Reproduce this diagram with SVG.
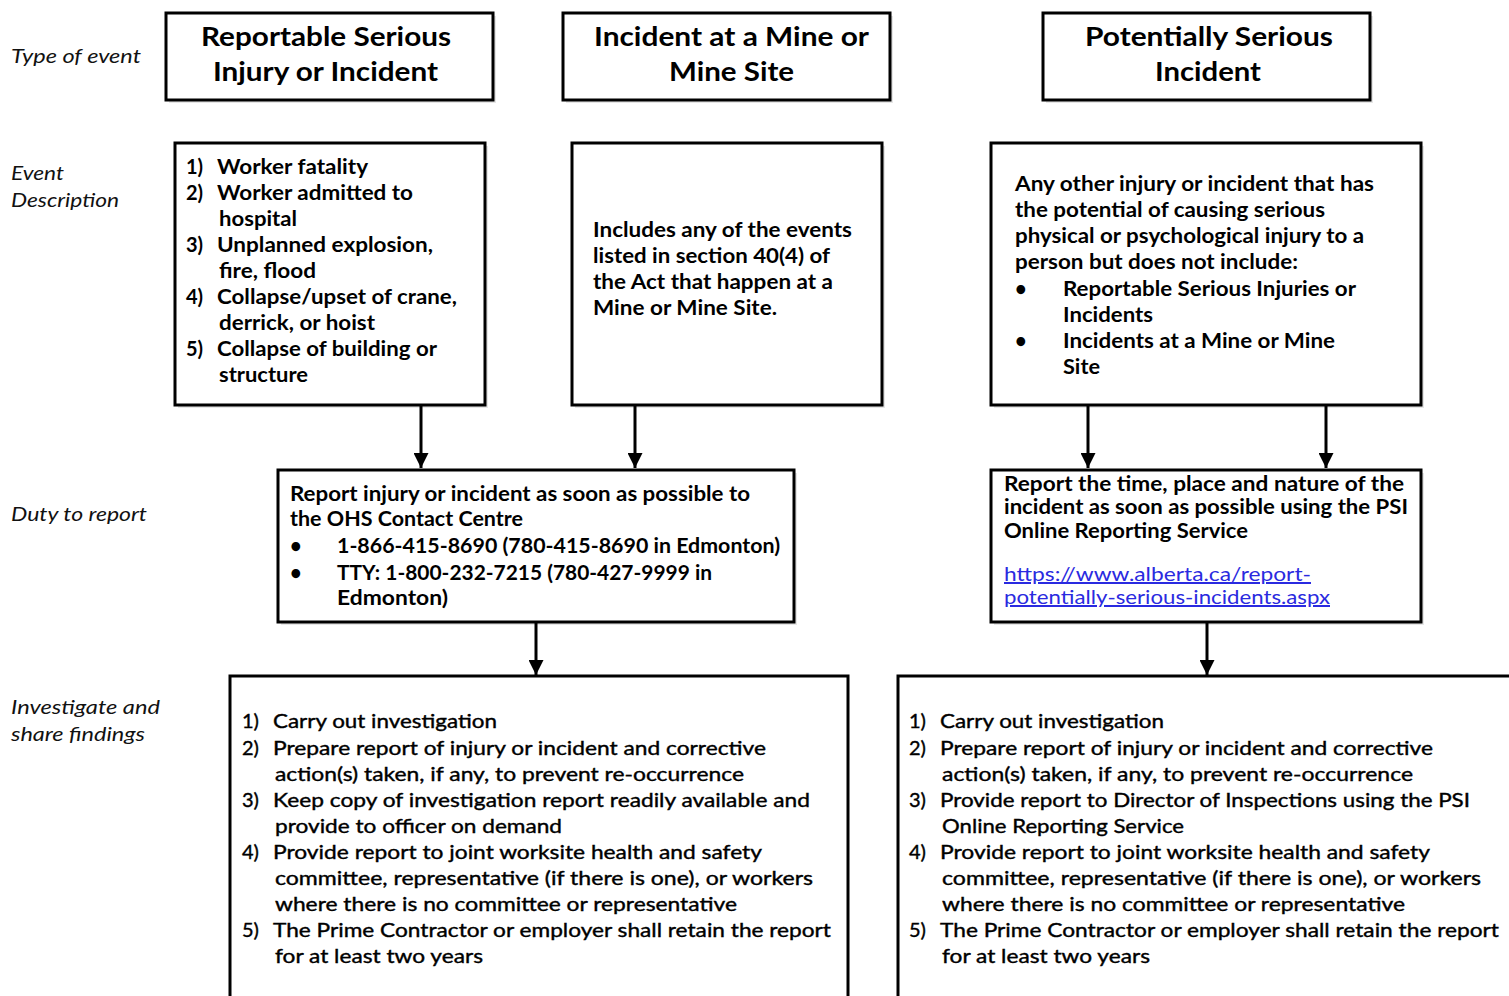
<svg xmlns="http://www.w3.org/2000/svg" width="1509" height="996" viewBox="0 0 1509 996">
<style>
.box{fill:#fff;stroke:#000;stroke-width:3}
.sh{fill:#e6e6e6}
text{font-family:Lato,"Open Sans","Liberation Sans",sans-serif;fill:#000}
.t{font-size:27px;font-weight:bold}
.b{font-size:20px;font-weight:bold}
.n{font-size:20px;font-weight:normal;stroke:#000;stroke-width:0.4}
.lab{font-size:20px;font-style:italic;fill:#111}
.link{fill:#2a2ae0;text-decoration:underline;font-weight:normal;font-size:20px}
.c{stroke:#000;stroke-width:3;fill:none}
</style>
<defs>
<marker id="ah" viewBox="0 0 10 10" refX="10" refY="5" markerWidth="5" markerHeight="5" markerUnits="strokeWidth" orient="auto">
<path d="M0,0 L10,5 L0,10 Z" fill="#000"/>
</marker>
</defs>
<rect width="1509" height="996" fill="#fff"/>

<g id="labels">
<text class="lab" x="11" y="63" textLength="130" lengthAdjust="spacingAndGlyphs">Type of event</text>
<text class="lab" x="11" y="180" textLength="53" lengthAdjust="spacingAndGlyphs">Event</text>
<text class="lab" x="11" y="207" textLength="108" lengthAdjust="spacingAndGlyphs">Description</text>
<text class="lab" x="11" y="521" textLength="136" lengthAdjust="spacingAndGlyphs">Duty to report</text>
<text class="lab" x="11" y="714" textLength="149" lengthAdjust="spacingAndGlyphs">Investigate and</text>
<text class="lab" x="11" y="741" textLength="134" lengthAdjust="spacingAndGlyphs">share findings</text>
</g>

<g id="type-rsi">
<rect class="sh" x="169" y="16" width="327" height="87"/>
<rect class="box" x="166" y="13" width="327" height="87"/>
<text class="t" x="201" y="46" textLength="250" lengthAdjust="spacingAndGlyphs">Reportable Serious</text>
<text class="t" x="213" y="81" textLength="225" lengthAdjust="spacingAndGlyphs">Injury or Incident</text>
</g>
<g id="type-mine">
<rect class="sh" x="566" y="16" width="327" height="87"/>
<rect class="box" x="563" y="13" width="327" height="87"/>
<text class="t" x="594" y="46" textLength="275" lengthAdjust="spacingAndGlyphs">Incident at a Mine or</text>
<text class="t" x="669" y="81" textLength="125" lengthAdjust="spacingAndGlyphs">Mine Site</text>
</g>
<g id="type-psi">
<rect class="sh" x="1046" y="16" width="327" height="87"/>
<rect class="box" x="1043" y="13" width="327" height="87"/>
<text class="t" x="1085" y="46" textLength="248" lengthAdjust="spacingAndGlyphs">Potentially Serious</text>
<text class="t" x="1155" y="81" textLength="106" lengthAdjust="spacingAndGlyphs">Incident</text>
</g>

<g id="desc-rsi">
<rect class="sh" x="178" y="146" width="310" height="262"/>
<rect class="box" x="175" y="143" width="310" height="262"/>
<text class="b" x="186" y="174">1)</text><text class="b" x="217" y="174" textLength="151" lengthAdjust="spacingAndGlyphs">Worker fatality</text>
<text class="b" x="186" y="200">2)</text><text class="b" x="217" y="200" textLength="196" lengthAdjust="spacingAndGlyphs">Worker admitted to</text>
<text class="b" x="219" y="226" textLength="78" lengthAdjust="spacingAndGlyphs">hospital</text>
<text class="b" x="186" y="252">3)</text><text class="b" x="217" y="252" textLength="216" lengthAdjust="spacingAndGlyphs">Unplanned explosion,</text>
<text class="b" x="219" y="278" textLength="97" lengthAdjust="spacingAndGlyphs">fire, flood</text>
<text class="b" x="186" y="304">4)</text><text class="b" x="217" y="304" textLength="240" lengthAdjust="spacingAndGlyphs">Collapse/upset of crane,</text>
<text class="b" x="219" y="330" textLength="156" lengthAdjust="spacingAndGlyphs">derrick, or hoist</text>
<text class="b" x="186" y="356">5)</text><text class="b" x="217" y="356" textLength="220" lengthAdjust="spacingAndGlyphs">Collapse of building or</text>
<text class="b" x="219" y="382" textLength="89" lengthAdjust="spacingAndGlyphs">structure</text>
</g>

<g id="desc-mine">
<rect class="sh" x="575" y="146" width="310" height="262"/>
<rect class="box" x="572" y="143" width="310" height="262"/>
<text class="b" x="593" y="237" textLength="259" lengthAdjust="spacingAndGlyphs">Includes any of the events</text>
<text class="b" x="593" y="263" textLength="237" lengthAdjust="spacingAndGlyphs">listed in section 40(4) of</text>
<text class="b" x="593" y="289" textLength="240" lengthAdjust="spacingAndGlyphs">the Act that happen at a</text>
<text class="b" x="593" y="315" textLength="184" lengthAdjust="spacingAndGlyphs">Mine or Mine Site.</text>
</g>

<g id="desc-psi">
<rect class="sh" x="994" y="146" width="430" height="262"/>
<rect class="box" x="991" y="143" width="430" height="262"/>
<text class="b" x="1015" y="191" textLength="359" lengthAdjust="spacingAndGlyphs">Any other injury or incident that has</text>
<text class="b" x="1015" y="217" textLength="310" lengthAdjust="spacingAndGlyphs">the potential of causing serious</text>
<text class="b" x="1015" y="243" textLength="349" lengthAdjust="spacingAndGlyphs">physical or psychological injury to a</text>
<text class="b" x="1015" y="269" textLength="283" lengthAdjust="spacingAndGlyphs">person but does not include:</text>
<text class="b" x="1015" y="296">•</text><text class="b" x="1063" y="296" textLength="293" lengthAdjust="spacingAndGlyphs">Reportable Serious Injuries or</text>
<text class="b" x="1063" y="322" textLength="90" lengthAdjust="spacingAndGlyphs">Incidents</text>
<text class="b" x="1015" y="348">•</text><text class="b" x="1063" y="348" textLength="272" lengthAdjust="spacingAndGlyphs">Incidents at a Mine or Mine</text>
<text class="b" x="1063" y="374" textLength="37" lengthAdjust="spacingAndGlyphs">Site</text>
</g>

<g id="report-ohs">
<rect class="sh" x="281" y="473" width="516" height="152"/>
<rect class="box" x="278" y="470" width="516" height="152"/>
<text class="b" x="290" y="501" textLength="460" lengthAdjust="spacingAndGlyphs">Report injury or incident as soon as possible to</text>
<text class="b" x="290" y="526" textLength="233" lengthAdjust="spacingAndGlyphs">the OHS Contact Centre</text>
<text class="b" x="290" y="553">•</text><text class="b" x="337" y="553" textLength="443" lengthAdjust="spacingAndGlyphs">1-866-415-8690 (780-415-8690 in Edmonton)</text>
<text class="b" x="290" y="580">•</text><text class="b" x="337" y="580" textLength="375" lengthAdjust="spacingAndGlyphs">TTY: 1-800-232-7215 (780-427-9999 in</text>
<text class="b" x="337" y="605" textLength="111" lengthAdjust="spacingAndGlyphs">Edmonton)</text>
</g>

<g id="report-psi">
<rect class="sh" x="994" y="473" width="430" height="152"/>
<rect class="box" x="991" y="470" width="430" height="152"/>
<text class="b" x="1004" y="491" textLength="400" lengthAdjust="spacingAndGlyphs">Report the time, place and nature of the</text>
<text class="b" x="1004" y="514" textLength="404" lengthAdjust="spacingAndGlyphs">incident as soon as possible using the PSI</text>
<text class="b" x="1004" y="538" textLength="244" lengthAdjust="spacingAndGlyphs">Online Reporting Service</text>
<text class="link" x="1004" y="581" textLength="307" lengthAdjust="spacingAndGlyphs">https://www.alberta.ca/report-</text>
<text class="link" x="1004" y="604" textLength="326" lengthAdjust="spacingAndGlyphs">potentially-serious-incidents.aspx</text>
</g>

<g id="investigate-left">
<rect class="box" x="230" y="676" width="618" height="340"/>
<text class="n" x="242" y="728">1)</text><text class="n" x="273" y="728" textLength="224" lengthAdjust="spacingAndGlyphs">Carry out investigation</text>
<text class="n" x="242" y="755">2)</text><text class="n" x="273" y="755" textLength="493" lengthAdjust="spacingAndGlyphs">Prepare report of injury or incident and corrective</text>
<text class="n" x="275" y="781" textLength="469" lengthAdjust="spacingAndGlyphs">action(s) taken, if any, to prevent re-occurrence</text>
<text class="n" x="242" y="807">3)</text><text class="n" x="273" y="807" textLength="537" lengthAdjust="spacingAndGlyphs">Keep copy of investigation report readily available and</text>
<text class="n" x="275" y="833" textLength="287" lengthAdjust="spacingAndGlyphs">provide to officer on demand</text>
<text class="n" x="242" y="859">4)</text><text class="n" x="273" y="859" textLength="489" lengthAdjust="spacingAndGlyphs">Provide report to joint worksite health and safety</text>
<text class="n" x="275" y="885" textLength="538" lengthAdjust="spacingAndGlyphs">committee, representative (if there is one), or workers</text>
<text class="n" x="275" y="911" textLength="462" lengthAdjust="spacingAndGlyphs">where there is no committee or representative</text>
<text class="n" x="242" y="937">5)</text><text class="n" x="273" y="937" textLength="558" lengthAdjust="spacingAndGlyphs">The Prime Contractor or employer shall retain the report</text>
<text class="n" x="275" y="963" textLength="208" lengthAdjust="spacingAndGlyphs">for at least two years</text>
</g>

<g id="investigate-right">
<rect class="box" x="898" y="676" width="640" height="340"/>
<text class="n" x="909" y="728">1)</text><text class="n" x="940" y="728" textLength="224" lengthAdjust="spacingAndGlyphs">Carry out investigation</text>
<text class="n" x="909" y="755">2)</text><text class="n" x="940" y="755" textLength="493" lengthAdjust="spacingAndGlyphs">Prepare report of injury or incident and corrective</text>
<text class="n" x="942" y="781" textLength="471" lengthAdjust="spacingAndGlyphs">action(s) taken, if any, to prevent re-occurrence</text>
<text class="n" x="909" y="807">3)</text><text class="n" x="940" y="807" textLength="530" lengthAdjust="spacingAndGlyphs">Provide report to Director of Inspections using the PSI</text>
<text class="n" x="942" y="833" textLength="242" lengthAdjust="spacingAndGlyphs">Online Reporting Service</text>
<text class="n" x="909" y="859">4)</text><text class="n" x="940" y="859" textLength="490" lengthAdjust="spacingAndGlyphs">Provide report to joint worksite health and safety</text>
<text class="n" x="942" y="885" textLength="539" lengthAdjust="spacingAndGlyphs">committee, representative (if there is one), or workers</text>
<text class="n" x="942" y="911" textLength="463" lengthAdjust="spacingAndGlyphs">where there is no committee or representative</text>
<text class="n" x="909" y="937">5)</text><text class="n" x="940" y="937" textLength="559" lengthAdjust="spacingAndGlyphs">The Prime Contractor or employer shall retain the report</text>
<text class="n" x="942" y="963" textLength="208" lengthAdjust="spacingAndGlyphs">for at least two years</text>
</g>

<g id="connectors">
<line class="c" x1="421" y1="405" x2="421" y2="468" marker-end="url(#ah)"/>
<line class="c" x1="635" y1="405" x2="635" y2="468" marker-end="url(#ah)"/>
<line class="c" x1="1088" y1="405" x2="1088" y2="468" marker-end="url(#ah)"/>
<line class="c" x1="1326" y1="405" x2="1326" y2="468" marker-end="url(#ah)"/>
<line class="c" x1="536" y1="622" x2="536" y2="675" marker-end="url(#ah)"/>
<line class="c" x1="1207" y1="622" x2="1207" y2="675" marker-end="url(#ah)"/>
</g>
</svg>
